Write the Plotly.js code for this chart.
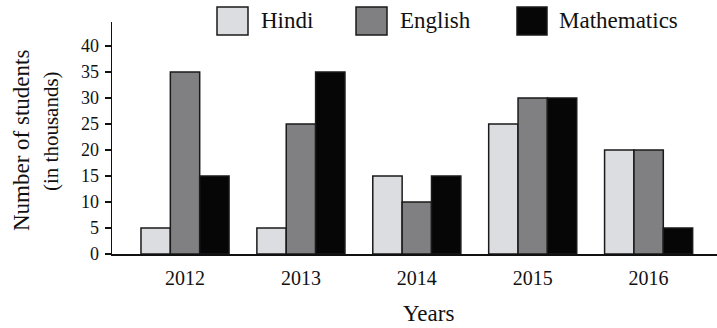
<!DOCTYPE html>
<html>
<head>
<meta charset="utf-8">
<script src="https://cdn.plot.ly/plotly-3.0.1.min.js"></script>
<style>html,body{margin:0;padding:0;background:#fff;}#chart{width:717px;height:328px;}</style>
</head>
<body>
<div id="chart"></div>
<script>
const years = ['2012', '2013', '2014', '2015', '2016'];
const seriesNames = ['Hindi', 'English', 'Mathematics'];
const hindi = [5, 5, 15, 25, 20];
const english = [35, 25, 10, 30, 20];
const mathematics = [15, 35, 15, 30, 5];
const colors = ['#dcdde1', '#808083', '#060606'];
const yTicks = [0, 5, 10, 15, 20, 25, 30, 35, 40];

const FONT = 'Liberation Serif, Times New Roman, serif';
const values = [hindi, english, mathematics];

const traces = values.map((v, i) => ({
  type: 'bar',
  name: seriesNames[i],
  x: years,
  y: v,
  marker: {color: colors[i], line: {color: '#1a1a1a', width: 1.5}},
  showlegend: false,
  hoverinfo: 'x+y+name'
}));

// custom legend (large square swatches)
const legBoxes = [[217, 248], [356, 387], [517, 547]];
const legText = [259, 398, 557];
const L = 112, W = 605, B = 254, H = 232;
const px = x => (x - L) / W;
const py = y => (B - y) / H;
const shapes = [];
const annotations = [];
seriesNames.forEach((n, i) => {
  shapes.push({type: 'rect', xref: 'paper', yref: 'paper',
    x0: px(legBoxes[i][0]), x1: px(legBoxes[i][1]), y0: py(35), y1: py(7),
    fillcolor: colors[i], line: {color: '#1a1a1a', width: 1.5}});
  annotations.push({xref: 'paper', yref: 'paper', x: px(legText[i]), y: py(21),
    xanchor: 'left', yanchor: 'middle', text: n, showarrow: false,
    font: {family: FONT, size: 23, color: '#111'}});
});
annotations.push({xref: 'paper', yref: 'paper', x: px(21), y: py(141), textangle: -90,
  xanchor: 'center', yanchor: 'middle', text: 'Number of students', showarrow: false,
  font: {family: FONT, size: 23, color: '#111'}});
annotations.push({xref: 'paper', yref: 'paper', x: px(51), y: py(131), textangle: -90,
  xanchor: 'center', yanchor: 'middle', text: '(in thousands)', showarrow: false,
  font: {family: FONT, size: 21, color: '#111'}});
annotations.push({xref: 'paper', yref: 'paper', x: px(428), y: py(313),
  xanchor: 'center', yanchor: 'middle', text: 'Years', showarrow: false,
  font: {family: FONT, size: 23, color: '#111'}});

const layout = {
  width: 717, height: 328,
  margin: {l: 112, r: 0, t: 22, b: 74},
  paper_bgcolor: '#fff', plot_bgcolor: '#fff',
  barmode: 'group', bargap: 0.24, bargroupgap: 0,
  font: {family: FONT, color: '#111'},
  xaxis: {
    type: 'category', range: [-0.63, 4.59],
    showline: true, linecolor: '#111', linewidth: 1.5,
    ticks: '', showgrid: false, zeroline: false,
    tickfont: {family: FONT, size: 20, color: '#111'},
    ticklabelstandoff: 5
  },
  yaxis: {
    range: [0, 44.6], tickvals: yTicks, ticktext: yTicks.map(String),
    showline: true, linecolor: '#111', linewidth: 1.5,
    ticks: 'outside', ticklen: 6, tickwidth: 1.2, tickcolor: '#111',
    showgrid: false, zeroline: false,
    tickfont: {family: FONT, size: 18, color: '#111'},
    ticklabelstandoff: 2
  },
  shapes: shapes,
  annotations: annotations
};

Plotly.newPlot('chart', traces, layout, {displayModeBar: false, staticPlot: true});
</script>
</body>
</html>
